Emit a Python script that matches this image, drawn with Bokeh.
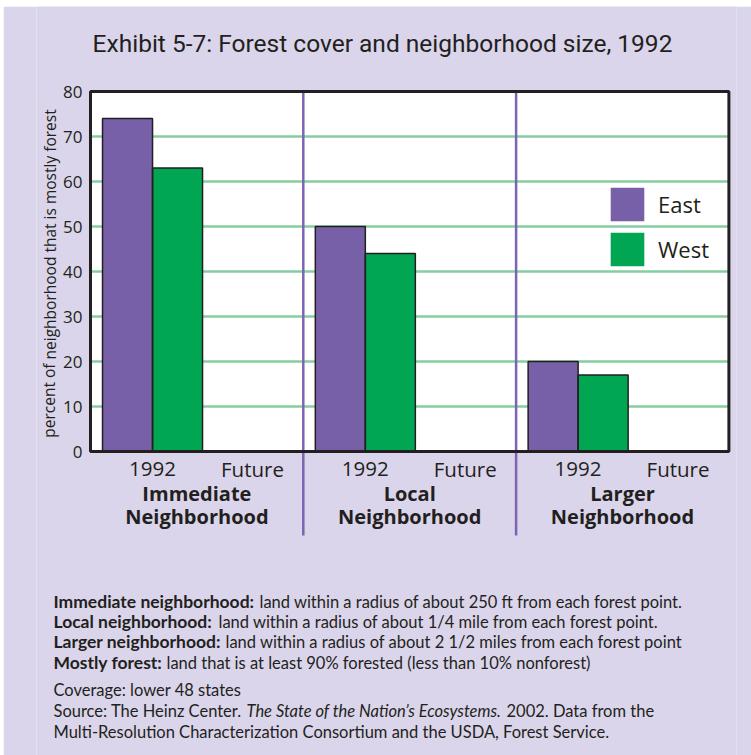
from bokeh.plotting import figure
from bokeh.models import Range1d, FixedTicker, Label, Legend, LegendItem, ColumnDataSource
from bokeh.core.properties import value
from bokeh.embed import file_html
from bokeh.resources import INLINE

# ---------------- data ----------------
group_line1 = ["Immediate", "Local", "Larger"]
group_line2 = ["Neighborhood", "Neighborhood", "Neighborhood"]
periods = ["1992", "Future"]
east = [74, 50, 20]
west = [63, 44, 17]
series = ["East", "West"]
y_ticks = [0, 10, 20, 30, 40, 50, 60, 70, 80]
title_text = "Exhibit 5-7: Forest cover and neighborhood size, 1992"
y_label = "percent of neighborhood that is mostly forest"

notes_bold = ["Immediate neighborhood:", "Local neighborhood:", "Larger neighborhood:", "Mostly forest:"]
notes_text = ["land within a radius of about 250 ft from each forest point.",
              "land within a radius of about 1/4 mile from each forest point.",
              "land within a radius of about 2 1/2 miles from each forest point",
              "land that is at least 90% forested (less than 10% nonforest)"]
coverage = "Coverage: lower 48 states"
source_a = "Source: The Heinz Center."
source_b = "The State of the Nation\u2019s Ecosystems."
source_c = "2002. Data from the"
source_d = "Multi-Resolution Characterization Consortium and the USDA, Forest Service."

# ---------------- style / layout ----------------
BG = "#dad5ea"
PURPLE = "#7760a8"
GREEN = "#00a651"
GRID = "#86cea0"
DIV = "#7b64b2"
INK = "#231f20"
PAGE_W, PAGE_H = 751, 755
OX, OY = 3, 6               # white page strip left / top
W, H = PAGE_W - OX, PAGE_H - OY
X0PX, XU = 90.0, 212.8      # page pixel of x=0, pixels per group
Y0PX, YU = 451.0, 4.5       # page pixel of y=0, pixels per percent
FL, FR = 36, 736            # frame left/right (page pixels)

def px_x(px):
    return (px - X0PX) / XU

def px_y(py):
    return (Y0PX - py) / YU

n = len(east)
ymax = y_ticks[-1]

p = figure(width=W, height=H, output_backend="svg", toolbar_location=None,
           x_range=Range1d(px_x(FL), px_x(FR)), y_range=Range1d(px_y(PAGE_H), px_y(OY)),
           x_axis_location=None, min_border_left=FL - OX, min_border_right=PAGE_W - FR,
           min_border_top=0, min_border_bottom=0, title=None)
p.margin = (OY, 0, 0, OX)
p.background_fill_color = BG
p.border_fill_color = BG
p.outline_line_color = None
p.xgrid.visible = False
p.ygrid.visible = False

ax = p.yaxis[0]
ax.fixed_location = 0
ax.ticker = FixedTicker(ticks=y_ticks)
ax.axis_line_color = None
ax.major_tick_line_color = None
ax.minor_tick_line_color = None
ax.major_label_standoff = 2
ax.major_label_text_font = "Open Sans"
ax.major_label_text_font_size = "17px"
ax.major_label_text_color = INK

# white plot box
p.quad(left=[0], right=[n], bottom=[0], top=[ymax], fill_color="white", line_color=None)
# grid lines
gv = y_ticks[1:-1]
p.segment(x0=[0] * len(gv), x1=[n] * len(gv), y0=gv, y1=gv, line_color=GRID, line_width=2.5)
# group dividers
dv = list(range(1, n))
p.segment(x0=dv, x1=dv, y0=[ymax] * len(dv), y1=[px_y(535)] * len(dv), line_color=DIV, line_width=2.5)

# bars (fill), outlines drawn separately so the legend swatches have no outline
bw = 0.235
idx = list(range(n))
src = ColumnDataSource(dict(xe=[i + 0.174 for i in idx], xw=[i + 0.409 for i in idx], east=east, west=west))
r_e = p.vbar(x="xe", top="east", width=bw, bottom=0, source=src, fill_color=PURPLE, line_color=None)
r_w = p.vbar(x="xw", top="west", width=bw, bottom=0, source=src, fill_color=GREEN, line_color=None)
p.vbar(x="xe", top="east", width=bw, bottom=0, source=src, fill_color=None, line_color=INK, line_width=1.5)
p.vbar(x="xw", top="west", width=bw, bottom=0, source=src, fill_color=None, line_color=INK, line_width=1.5)

# box border on top
p.quad(left=[0], right=[n], bottom=[0], top=[ymax], fill_color=None, line_color=INK, line_width=3)

leg = Legend(items=[LegendItem(label=series[0], renderers=[r_e]), LegendItem(label=series[1], renderers=[r_w])],
             location=(570, PAGE_H - 270), padding=0, margin=0, spacing=3,
             glyph_width=42, glyph_height=42, label_height=42, label_standoff=10,
             border_line_color=None, background_fill_alpha=0,
             label_text_font="Open Sans", label_text_font_size="22px", label_text_color=INK)
p.add_layout(leg, "center")

# period labels
px_, pt_ = [], []
for i in idx:
    px_ += [i + 0.291, i + 0.761]
    pt_ += periods
p.text(x=px_, y=[px_y(468)] * len(px_), text=pt_, text_font=value("Open Sans"), text_font_size="20.5px",
       text_color=INK, text_align="center", text_baseline="middle")
# group labels
gx = [i + 0.5 for i in idx]
p.text(x=gx, y=[px_y(493)] * n, text=group_line1, text_font=value("Open Sans"), text_font_size="20px",
       text_font_style="bold", text_color=INK, text_align="center", text_baseline="middle")
p.text(x=gx, y=[px_y(516)] * n, text=group_line2, text_font=value("Open Sans"), text_font_size="20px",
       text_font_style="bold", text_color=INK, text_align="center", text_baseline="middle")

# title
p.text(x=[px_x(382)], y=[px_y(43)], text=[title_text],
       text_font=value("Roboto"), text_font_size="24.5px",
       text_color=INK, text_align="center", text_baseline="middle")

# y axis label
p.add_layout(Label(x=px_x(49), y=px_y(273), text=y_label, angle=1.5707963, text_align="center",
                   text_baseline="middle", text_font="Open Sans", text_font_size="15.5px", text_color=INK))

def note(xp, yp, t, style="normal", size="16.5px"):
    p.add_layout(Label(x=px_x(xp), y=px_y(yp), text=t, text_baseline="middle", text_align="left",
                       text_font="Lato", text_font_size=size, text_font_style=style, text_color=INK))

ys = [601, 621, 641, 662]
xs2 = [259, 218, 225, 166]
for b, t, yy, xx in zip(notes_bold, notes_text, ys, xs2):
    note(53, yy, b, "bold", "17.5px")
    note(xx, yy, t)
note(53, 689, coverage)
note(53, 710, source_a)
note(246, 710, source_b, "italic")
note(506, 710, source_c)
note(53, 731, source_d)

open("out.html", "w").write(file_html(p, INLINE))
